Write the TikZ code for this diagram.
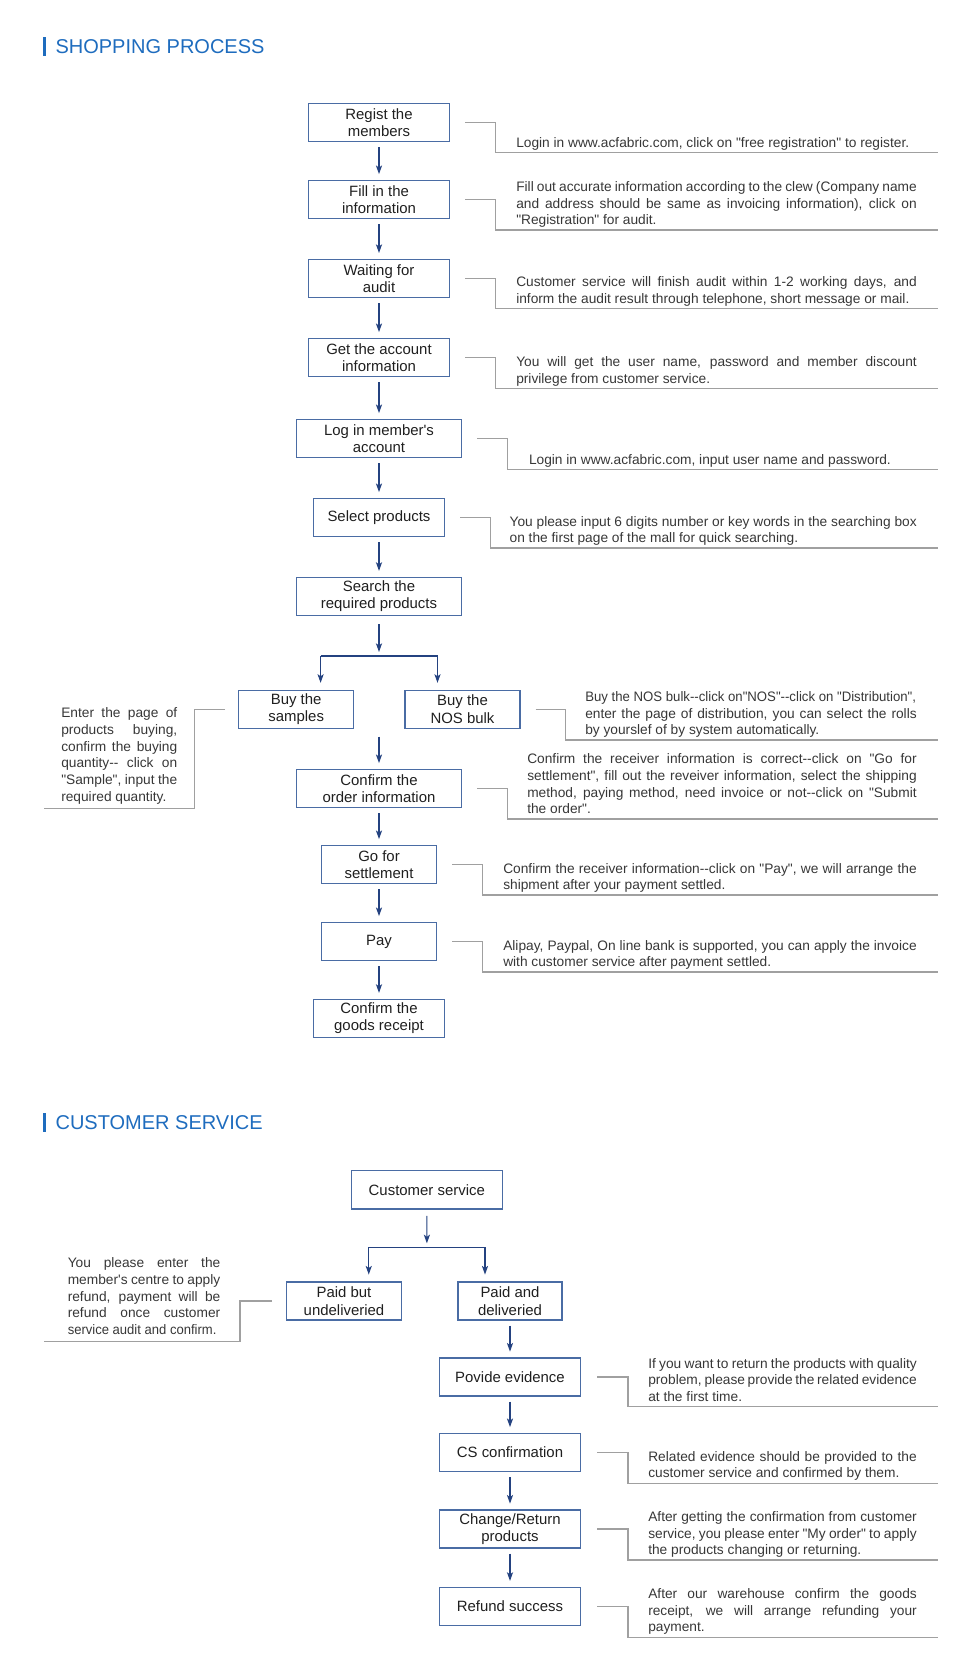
\documentclass[tikz,border=0pt]{standalone}
\usepackage{fontspec}
\setmainfont{Liberation Sans}[Ligatures=TeXOff]
\usetikzlibrary{arrows.meta}
\definecolor{boxblue}{RGB}{74,108,164}
\definecolor{linkblue}{RGB}{36,66,128}
\definecolor{headblue}{RGB}{30,108,190}
\definecolor{notegray}{RGB}{160,160,160}
\definecolor{textgray}{RGB}{55,55,55}
\tolerance=9999
\hyphenpenalty=10000
\hbadness=10000
\tikzset{
  box/.style={draw=boxblue, line width=1.1pt, minimum height=28.6pt, inner sep=0pt,
    align=center, text=black!88, font=\fontsize{11.2}{13}\selectfont},
  note/.style={anchor=base west, inner sep=0pt, align=justify, text=textgray,
    font=\fontsize{10.3}{12.5}\selectfont},
  link/.style={draw=linkblue, line width=0.8pt, -{Stealth[length=6.5pt,width=4.6pt,inset=1.6pt]},
    shorten <=3.6pt, shorten >=4.2pt},
  bar/.style={draw=linkblue, line width=0.8pt},
  bracket/.style={draw=notegray, line width=1.1pt},
  heading/.style={anchor=base west, inner sep=0pt, text=headblue, font=\fontsize{15}{18}\selectfont}
}
\begin{document}
\begin{tikzpicture}[x=0.75pt,y=-0.75pt]
\useasboundingbox (0,0) rectangle (980,1679);

% shopping process
\fill[headblue] (42.7,37.3) rectangle (46,56);
\node[heading] (shop) at (55.3,53.3) {SHOPPING PROCESS};

\node[box, minimum width=106.1pt] (regist) at (379,122.5) {Regist the\\members};
\node[box, minimum width=106.1pt] (fill) at (379,199.5) {Fill in the\\information};
\node[box, minimum width=106.1pt] (wait) at (379,278.4) {Waiting for\\audit};
\node[box, minimum width=106.1pt] (account) at (379,357.5) {Get the account\\information};
\node[box, minimum width=123.8pt] (login) at (379,438.5) {Log in member's\\account};
\node[box, minimum width=98.3pt] (select) at (379,517.5) {Select products};
\node[box, minimum width=123.8pt] (search) at (379,596.3) {Search the\\required products};
\node[box, minimum width=86.2pt] (samples) at (296.2,709.3) {Buy the\\samples};
\node[box, minimum width=86.2pt] (bulk) at (462.5,709.3) {Buy the\\NOS bulk};
\node[box, minimum width=123.8pt] (order) at (379,788.5) {Confirm the\\order information};
\node[box, minimum width=86.3pt] (settle) at (379,864.5) {Go for\\settlement};
\node[box, minimum width=86.3pt] (pay) at (379,941.5) {Pay};
\node[box, minimum width=98.3pt] (receipt) at (379,1018.3) {Confirm the\\goods receipt};

\foreach \a/\b in {regist/fill,fill/wait,wait/account,account/login,login/select,
  select/search,order/settle,settle/pay,pay/receipt}
  \draw[link] (\a) -- (\b);

\coordinate (split) at (379,656);
\coordinate (splitL) at (320.6,656);
\coordinate (splitR) at (437.5,656);
\coordinate (merge) at (379,736.7);
\draw[link, shorten <=6pt, shorten >=3pt] (search) -- (split);
\draw[bar] (splitL) -- (splitR);
\draw[link, shorten <=0pt, shorten >=5pt] (splitL) -- (splitL |- samples.north);
\draw[link, shorten <=0pt, shorten >=5pt] (splitR) -- (splitR |- bulk.north);
\draw[link, shorten <=0pt] (merge) -- (order);

\node[note, text width=300.4pt] (t1) at (516,147.7) {Login in www.acfabric.com, click on "free registration" to register.};
\node[note, text width=300.4pt] (t2) at (516,191.6) {Fill out accurate information according to the clew (Company name\linebreak and address should be same as invoicing information), click on\linebreak "Registration" for audit.};
\node[note, text width=300.4pt] (t3) at (516,286.6) {Customer service will finish audit within 1-2 working days, and\linebreak inform the audit result through telephone, short message or mail.};
\node[note, text width=300.4pt] (t4) at (516,366.6) {You will get the user name, password and member discount\linebreak privilege from customer service.};
\node[note, text width=290.8pt] (t5) at (528.75,464.3) {Login in www.acfabric.com, input user name and password.};
\node[note, text width=305.3pt] (t6) at (509.4,526.3) {You please input 6 digits number or key words in the searching box\linebreak on the first page of the mall for quick searching.};
\node[note, text width=248.6pt] (t7) at (585,701.6) {\scalebox{0.96}[1]{Buy the NOS bulk--click on"NOS"--click on "Distribution",}\linebreak enter the page of distribution, you can select the rolls\linebreak by yourslef of by system automatically.};
\node[note, text width=87pt] (t8) at (61,717.8) {Enter the page of\linebreak products buying,\linebreak confirm the buying\linebreak quantity-- click on\linebreak "Sample", input the\linebreak required quantity.};
\node[note, text width=292.1pt] (t9) at (527,763.9) {Confirm the receiver information is correct--click on "Go for\linebreak settlement", fill out the reveiver information, select the shipping\linebreak method, paying method, need invoice or not--click on "Submit\linebreak the order".};
\node[note, text width=310.1pt] (t10) at (503,873.3) {Confirm the receiver information--click on "Pay", we will arrange the\linebreak shipment after your payment settled.};
\node[note, text width=310.1pt] (t11) at (503,950.3) {Alipay, Paypal, On line bank is supported, you can apply the invoice\linebreak with customer service after payment settled.};

\foreach \b/\y in {regist/152.7,fill/230,wait/308.3,account/388.3,login/469.3,
  select/548,bulk/740,order/819,settle/895,pay/972}
  \draw[bracket] (\b.east) ++(15,0) -- ++(30,0) |- (937.5,\y);
\draw[bracket] (samples.west) ++(-13,0) -- ++(-30.6,0) |- (43.75,808.3);

% customer service
\fill[headblue] (42.7,1112.7) rectangle (46,1131.5);
\node[heading] (service) at (55.3,1129) {CUSTOMER SERVICE};

\node[box, minimum width=113.2pt] (cs) at (426.8,1189.7) {Customer service};
\node[box, minimum width=85.9pt] (unpaid) at (344,1301) {Paid but\\undeliveried};
\node[box, minimum width=78pt] (paid) at (510,1301) {Paid and\\deliveried};
\node[box, minimum width=105.8pt] (evidence) at (510,1377) {Povide evidence};
\node[box, minimum width=105.8pt] (confirm) at (510,1452.5) {CS confirmation};
\node[box, minimum width=105.8pt] (change) at (510,1529) {Change/Return\\products};
\node[box, minimum width=105.8pt] (refund) at (510,1606.3) {Refund success};

\coordinate (csplit) at (426.9,1247.3);
\coordinate (csplitL) at (368.75,1247.3);
\coordinate (csplitR) at (485,1247.3);
\draw[link, shorten <=4.8pt, shorten >=3pt] (cs) -- (csplit);
\draw[bar] (csplitL) -- (csplitR);
\draw[link, shorten <=0pt, shorten >=5pt] (csplitL) -- (csplitL |- unpaid.north);
\draw[link, shorten <=0pt, shorten >=5pt] (csplitR) -- (csplitR |- paid.north);
\foreach \a/\b in {paid/evidence,evidence/confirm,confirm/change,change/refund}
  \draw[link] (\a) -- (\b);

\node[note, text width=114.4pt] (t12) at (67.5,1267.8) {You please enter the\linebreak member's centre to apply\linebreak refund, payment will be\linebreak refund once customer\linebreak \scalebox{0.95}[1]{service audit and confirm.}};
\node[note, text width=201.4pt] (t13) at (648,1368) {If you want to return the products with quality\linebreak problem, please provide the related evidence\linebreak at the first time.};
\node[note, text width=201.4pt] (t14) at (648,1461) {Related evidence should be provided to the\linebreak customer service and confirmed by them.};
\node[note, text width=201.4pt] (t15) at (648,1521.4) {After getting the confirmation from customer\linebreak service, you please enter "My order" to apply\linebreak the products changing or returning.};
\node[note, text width=201.4pt] (t16) at (648,1598.5) {After our warehouse confirm the goods\linebreak receipt, we will arrange refunding your\linebreak payment.};

\foreach \b/\y in {evidence/1406.7,confirm/1483.3,change/1560,refund/1637.3}
  \draw[bracket] (\b.east) ++(16,0) -- ++(30.5,0) |- (937.5,\y);
\draw[bracket] (unpaid.west) ++(-14,0) -- ++(-32,0) |- (43.75,1341.7);
\end{tikzpicture}
\end{document}
